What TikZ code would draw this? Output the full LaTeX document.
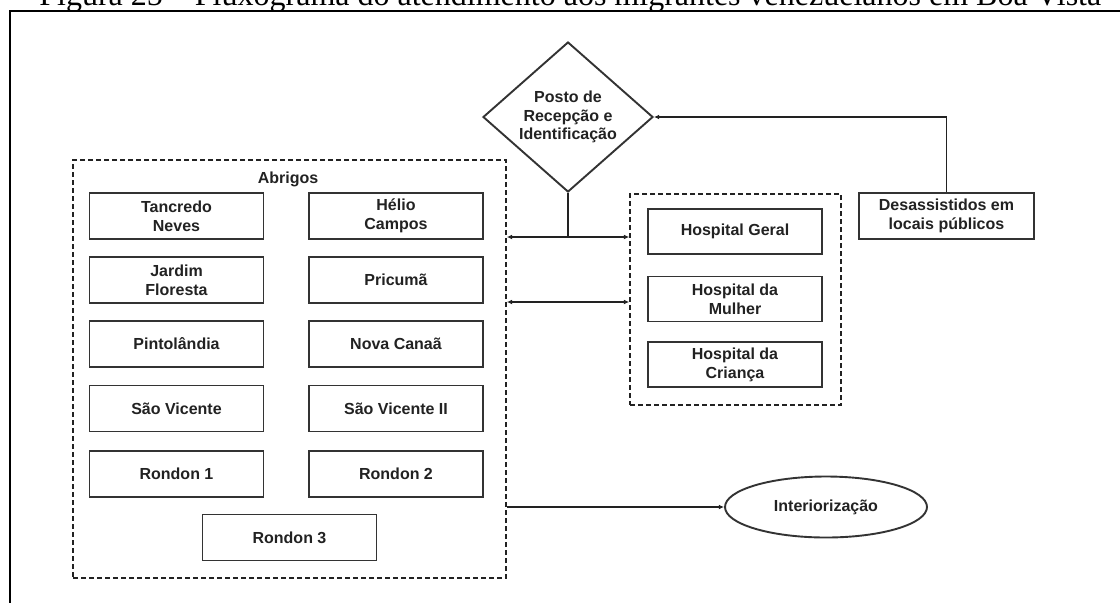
\documentclass[tikz,border=0pt]{standalone}
\usepackage{fontspec}
\setmainfont{Liberation Serif}
\newfontfamily\boxfont{Liberation Sans}
\usetikzlibrary{shapes.geometric,arrows.meta}

\definecolor{ink}{HTML}{222222}
\definecolor{edge}{HTML}{333333}

\tikzset{
  lbl/.style={font=\boxfont\bfseries\fontsize{8}{9.4}\selectfont, text=ink, align=center},
  unit/.style={lbl, draw=edge, line width=0.95pt, inner sep=0pt,
               minimum width=87pt, minimum height=23pt},
  group/.style={draw=ink, line width=0.85pt, dash pattern=on 2.6pt off 1.4pt,
                inner sep=0pt},
  decision/.style={lbl, diamond, draw=edge, line width=0.95pt, inner sep=0pt,
                   aspect=1.13, minimum width=85pt, minimum height=75pt},
  terminal/.style={lbl, ellipse, draw=edge, line width=0.95pt, inner sep=0pt,
                   minimum width=101pt, minimum height=30.5pt},
  link/.style={draw=ink, line width=0.7pt},
  tip/.style={-{Latex[length=2.6pt,width=2.4pt]}},
  tips/.style={{Latex[length=2.6pt,width=2.4pt]}-{Latex[length=2.6pt,width=2.4pt]}}
}

\begin{document}
\begin{tikzpicture}[x=0.5pt,y=-0.5pt]
  \useasboundingbox (0,0) rectangle (1120,602);
  \clip (0,0) rectangle (1120,602);
  \fill[white] (0,0) rectangle (1120,602);

  % caption and page frame
  \node[anchor=base west, inner sep=0pt, font=\fontsize{16}{18}\selectfont]
    (caption) at (39,5) {Figura 25 – Fluxograma do atendimento aos migrantes venezuelanos em Boa Vista};
  \draw[line width=1pt] (10,640) -- (10,11) -- (1140,11);

  % shelters group
  \node[group, minimum width=216.5pt, minimum height=209pt] (abrigos) at (289.5,369) {};
  \node[lbl] (abrigostitle) at (288,179) {Abrigos};

  \node[unit] (tn) at (176.5,216)   {Tancredo\\Neves};
  \node[unit] (hc) at (396,216)     {Hélio\\Campos};
  \node[unit] (jf) at (176.5,280)   {Jardim\\Floresta};
  \node[unit] (pr) at (396,280)     {Pricumã};
  \node[unit] (pi) at (176.5,344)   {Pintolândia};
  \node[unit] (nc) at (396,344)     {Nova Canaã};
  \node[unit] (sv) at (176.5,408.5) {São Vicente};
  \node[unit] (sv2) at (396,408.5)  {São Vicente II};
  \node[unit] (r1) at (176.5,474)   {Rondon 1};
  \node[unit] (r2) at (396,474)     {Rondon 2};
  \node[unit] (r3) at (289.5,537.5) {Rondon 3};

  % hospitals group
  \node[group, minimum width=105.5pt, minimum height=105.5pt] (hospitais) at (735.5,299.5) {};
  \node[unit, minimum height=22.5pt] (hg) at (735,231.5) {Hospital Geral};
  \node[unit, minimum height=22.5pt] (hm) at (735,299)   {Hospital da\\Mulher};
  \node[unit, minimum height=22.5pt] (hcr) at (735,364.5) {Hospital da\\Criança};

  % reception point, homeless people, relocation
  \node[decision] (posto) at (568,117) {Posto de\\Recepção e\\Identificação};
  \node[unit, minimum width=87.5pt] (desa) at (946.5,216) {Desassistidos em\\locais públicos};
  \node[terminal] (inter) at (826,507) {Interiorização};

  % connectors
  \coordinate (split) at (568,237);
  \coordinate (lower) at (568,302);
  \draw[link, tip] (desa.north) |- (posto.east);
  \draw[link] (posto.south) -- (split);
  \draw[link, tips] (abrigos.east |- split) -- (hospitais.west |- split);
  \draw[link, tips] (abrigos.east |- lower) -- (hospitais.west |- lower);
  \draw[link, tip] (abrigos.east |- inter.west) -- (inter.west);
\end{tikzpicture}
\end{document}
